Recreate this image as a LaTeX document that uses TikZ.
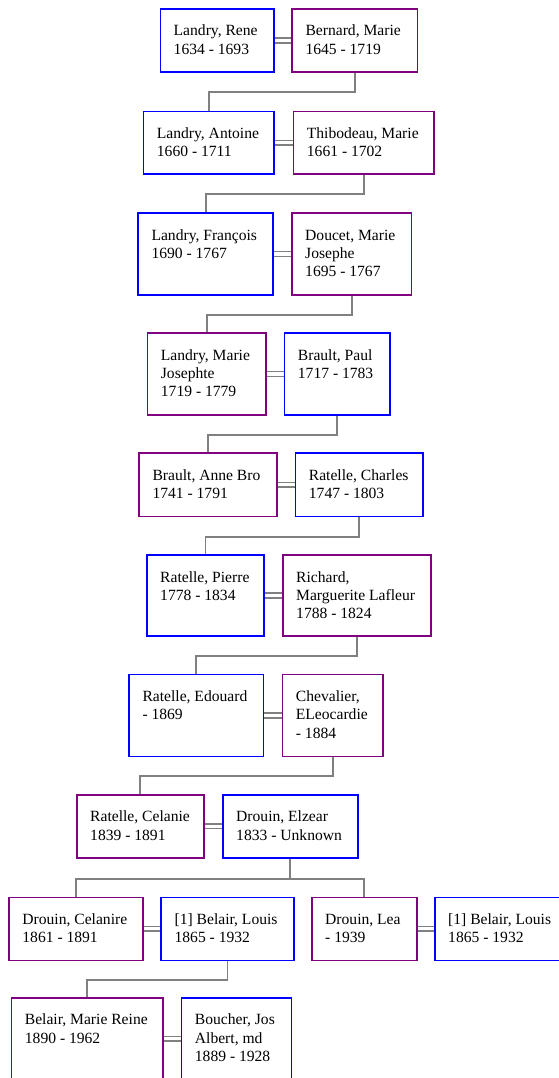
\documentclass[tikz,border=0pt]{standalone}
\usepackage{fontspec}
\setmainfont{Liberation Serif}
\definecolor{male}{HTML}{0000FF}
\definecolor{female}{HTML}{800080}
\definecolor{linkgrey}{HTML}{808080}
\tikzset{
  pers/.style={rectangle, line width=1.6pt, fill=white, inner sep=0pt},
  ptext/.style={inner sep=0pt, font=\fontsize{15.6}{18.3}\selectfont},
  conn/.style={draw=linkgrey, line width=1.8pt},
  marry/.style={draw=linkgrey, line width=1.5pt, double=white, double distance=3.2pt},
}
% #1 name, #2 colour, #3 left, #4 top, #5 width, #6 height, #7 text
\newcommand\personbox[7]{%
  \node[pers, draw=#2, minimum width=#5pt, minimum height=#6pt, anchor=north west] (#1) at (#3,#4) {};
  \node[ptext, anchor=base west] (#1-t) at ({#3+14},{#4+27.7}) {\parbox[t]{220pt}{\raggedright #7}};%
}
\begin{document}
\begin{tikzpicture}[x=1pt, y=-1pt]
\useasboundingbox (0,0) rectangle (559,1078);

% generation 1
\personbox{rene}{male}{159.5}{8.3}{113.5}{63}{Landry, Rene\\1634 - 1693}
\personbox{bernard}{female}{291.3}{8.3}{125.4}{63}{Bernard, Marie\\1645 - 1719}
% generation 2
\personbox{antoine}{male}{142.7}{110.7}{130.6}{62.6}{Landry, Antoine\\1660 - 1711}
\personbox{thibodeau}{female}{292.7}{110.7}{140.6}{62.6}{Thibodeau, Marie\\1661 - 1702}
% generation 3
\personbox{francois}{male}{137.3}{212.3}{135}{81.7}{Landry, François\\1690 - 1767}
\personbox{doucet}{female}{291}{212.3}{119.7}{81.7}{Doucet, Marie\\Josephe\\1695 - 1767}
% generation 4
\personbox{mjosephte}{female}{146.7}{332.3}{118.3}{81.7}{Landry, Marie\\Josephte\\1719 - 1779}
\personbox{paul}{male}{283.7}{332.3}{105.3}{81.7}{Brault, Paul\\1717 - 1783}
% generation 5
\personbox{annebro}{female}{138.3}{452.3}{138}{63.4}{Brault, Anne Bro\\1741 - 1791}
\personbox{charles}{male}{294.7}{452.3}{127.6}{63.4}{Ratelle, Charles\\1747 - 1803}
% generation 6
\personbox{pierre}{male}{146}{554.3}{117.3}{80.7}{Ratelle, Pierre\\1778 - 1834}
\personbox{richard}{female}{282}{554.3}{148.3}{80.7}{Richard,\\Marguerite Lafleur\\1788 - 1824}
% generation 7
\personbox{edouard}{male}{128.3}{673.7}{134.4}{82}{Ratelle, Edouard\\- 1869}
\personbox{chevalier}{female}{281.7}{673.7}{100.3}{82}{Chevalier,\\ELeocardie\\- 1884}
% generation 8
\personbox{celanie}{female}{76}{794}{127}{63}{Ratelle, Celanie\\1839 - 1891}
\personbox{elzear}{male}{222}{794}{135}{63}{Drouin, Elzear\\1833 - Unknown}
% generation 9
\personbox{celanire}{female}{8.2}{896.5}{133.8}{63}{Drouin, Celanire\\1861 - 1891}
\personbox{louisa}{male}{160.4}{896.5}{132.6}{63}{[1] Belair, Louis\\1865 - 1932}
\personbox{lea}{female}{311}{896.5}{105}{63}{Drouin, Lea\\- 1939}
\personbox{louisb}{male}{434}{896.5}{140}{63}{[1] Belair, Louis\\1865 - 1932}
% generation 10
\personbox{mreine}{female}{10.7}{997}{151.3}{82}{Belair, Marie Reine\\1890 - 1962}
\personbox{boucher}{male}{180.7}{997}{110}{82}{Boucher, Jos\\Albert, md\\1889 - 1928}

% marriages
\foreach \a/\b in {rene/bernard, antoine/thibodeau, francois/doucet, mjosephte/paul,
                   annebro/charles, pierre/richard, edouard/chevalier, celanie/elzear,
                   celanire/louisa, lea/louisb, mreine/boucher}
  \draw[marry] (\a.east) -- (\b.west);

% descent
\draw[conn] (bernard.south) -- ++(0,19.5) -| (antoine.north);
\draw[conn] (thibodeau.south) -- ++(0,19.5) -| (francois.north);
\draw[conn] (doucet.south) -- ++(0,19.2) -| (mjosephte.north);
\draw[conn] (paul.south) -- ++(0,19.2) -| (annebro.north);
\draw[conn] (charles.south) -- ++(0,19.3) -| (pierre.north);
\draw[conn] (richard.south) -- ++(0,19.3) -| (edouard.north);
\draw[conn] (chevalier.south) -- ++(0,19) -| (celanie.north);
\draw[conn] (elzear.south) -- ++(0,20) coordinate (split);
\draw[conn] (split) -| (celanire.north);
\draw[conn] (split) -| (lea.north);
\draw[conn] (louisa.south) -- ++(0,18.5) -| (mreine.north);
\end{tikzpicture}
\end{document}
